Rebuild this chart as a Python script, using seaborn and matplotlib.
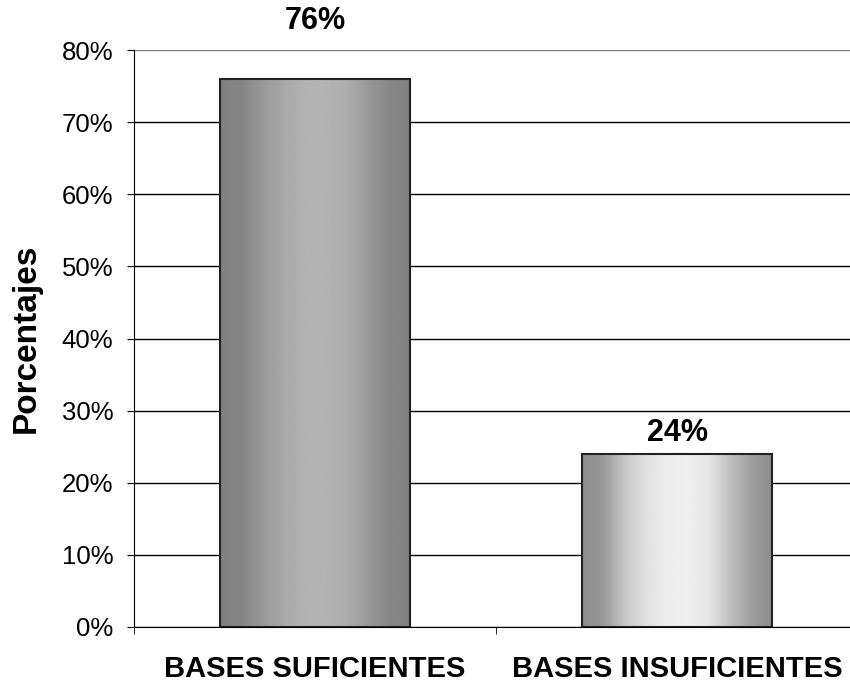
import matplotlib.pyplot as plt
import matplotlib.transforms as mtransforms
import numpy as np
import pandas as pd
import seaborn as sns

# Data
categories = ['BASES SUFICIENTES', 'BASES INSUFICIENTES']
values = [76, 24]
labels = ['76%', '24%']

sns.set_style('white')
plt.rcParams['font.family'] = ['Liberation Sans', 'DejaVu Sans']
plt.rcParams['text.color'] = 'black'
plt.rcParams['xtick.color'] = 'black'
plt.rcParams['ytick.color'] = 'black'
plt.rcParams['axes.labelcolor'] = 'black'

df = pd.DataFrame({'cat': categories, 'val': values})

fig = plt.figure(figsize=(8.5, 6.83), dpi=100)
ax = fig.add_axes([134 / 850, 1 - 627 / 683, 724 / 850, 577 / 683])

sns.barplot(data=df, x='cat', y='val', ax=ax, width=0.525, color='gray',
            edgecolor='#222222', linewidth=1.5, zorder=3)

# Gradient fills (Excel-style shading)
grad1 = [0.50, 0.52, 0.60, 0.66, 0.70, 0.70, 0.68, 0.60, 0.53, 0.50]
grad2 = [0.55, 0.60, 0.78, 0.88, 0.93, 0.94, 0.90, 0.75, 0.62, 0.55]
for patch, g in zip(ax.patches, [grad1, grad2]):
    x0, y0 = patch.get_x(), patch.get_y()
    w, h = patch.get_width(), patch.get_height()
    xs = np.linspace(0, 1, 200)
    row = np.interp(xs, np.linspace(0, 1, len(g)), g)
    img = ax.imshow(row[np.newaxis, :], cmap='gray', vmin=0, vmax=1, aspect='auto',
                    extent=[x0, x0 + w, y0, y0 + h], zorder=3, interpolation='bilinear')
    img.set_clip_path(patch)
    patch.set_facecolor('none')
    patch.set_zorder(4)

ax.set_xlim(-0.5, 1.5)
ax.set_ylim(0, 80)
ax.set_yticks(range(0, 81, 10))
ax.set_yticklabels([f'{v}%' for v in range(0, 81, 10)], fontsize=18.5)
ax.yaxis.grid(True, color='black', linewidth=1)
ax.set_axisbelow(True)
gl = ax.get_ygridlines()
gl[-1].set_color('#808080')

# value labels: above the bar, or above the plot area when there is no room
for i, (v, t) in enumerate(zip(values, labels)):
    y = v + 2.9 if v + 5 < 80 else 84
    ax.text(i, y, t, ha='center', va='center', fontsize=22, fontweight='bold', clip_on=False)

ax.set_xlabel('')
ax.set_xticks([0, 1])
ax.set_xticklabels(categories, fontsize=21, fontweight='bold')
# the last label is nudged left so it fits inside the picture
last = ax.get_xticklabels()[-1]
last.set_transform(last.get_transform() + mtransforms.ScaledTranslation(-10 / 100, 0, fig.dpi_scale_trans))
ax.set_xticks([-0.5, 0.5, 1.5], minor=True)
ax.tick_params(axis='x', which='major', length=0, pad=20)
ax.tick_params(axis='x', which='minor', length=5, color='black', direction='out', bottom=True)
ax.tick_params(axis='y', length=5, color='black', direction='out', left=True, pad=10)
ax.set_ylabel('Porcentajes', fontsize=24, fontweight='bold')
ax.yaxis.set_label_coords(-0.127, 0.5)

for s in ['top', 'right']:
    ax.spines[s].set_visible(False)
ax.spines['left'].set_color('black')
ax.spines['bottom'].set_color('black')

fig.savefig('out.png', dpi=100)
